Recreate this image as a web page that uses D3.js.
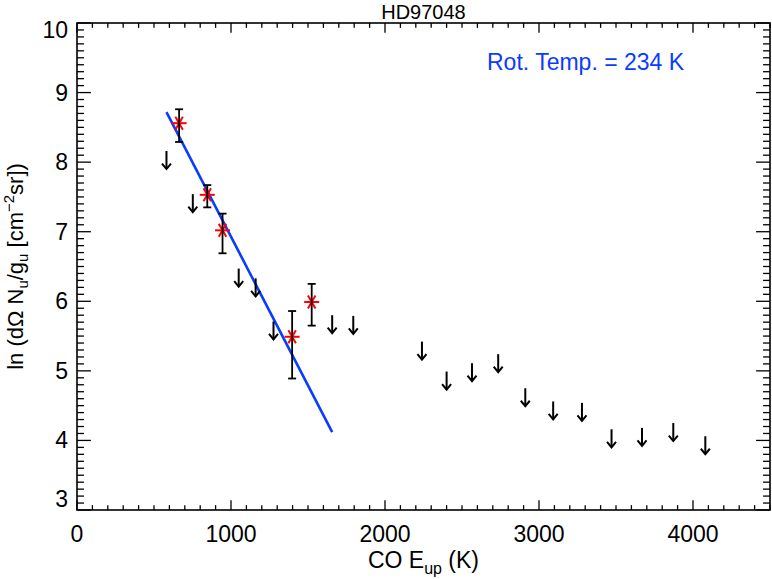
<!DOCTYPE html>
<html><head><meta charset="utf-8">
<script src="https://cdn.jsdelivr.net/npm/d3@7"></script>
<style>body{margin:0;background:#fff}svg{display:block}text{font-family:"Liberation Sans",Arial,Helvetica,sans-serif}</style>
</head><body><div id="chart"></div>
<script>
// ---- data ----
const title = "HD97048";
const xTicks = [0, 1000, 2000, 3000, 4000];
const yTicks = [3, 4, 5, 6, 7, 8, 9, 10];
// detections (CO J=15,17,18,22,23)
const detE  = [663, 846, 945, 1397, 1524];
const detLn = [8.56, 7.53, 7.02, 5.49, 5.99];
const detHi = [8.76, 7.67, 7.26, 5.86, 6.25];
const detLo = [8.29, 7.35, 6.69, 4.89, 5.65];
// upper limits
const limE  = [581, 752, 1050, 1160, 1276, 1657, 1794, 2240, 2400, 2565, 2735, 2911, 3092, 3279, 3471, 3669, 3872, 4080];
const limLn = [8.16, 7.54, 6.47, 6.33, 5.71, 5.80, 5.79, 5.42, 4.99, 5.11, 5.24, 4.75, 4.56, 4.54, 4.16, 4.18, 4.25, 4.06];
// rotational fit line
const fitE  = [581, 1657];
const fitLn = [8.72, 4.12];
const fitLabel = "Rot. Temp. = 234 K";

// ---- layout ----
const W = 772, H = 579;
const L = 77, R = 770, T = 23, B = 510;
const svg = d3.select("#chart").append("svg").attr("width", W).attr("height", H);
const x = d3.scaleLinear().domain([0, 4500]).range([L, R]);
const y = d3.scaleLinear().domain([3, 10]).range([B, T]);
const blue = "#0a3cff";

// ticks
const xMinor = d3.range(0, 4501, 100);
const yMinor = d3.range(30, 101, 1).map(v => v / 10);
const xMaj = 9.7, yMaj = 13.9;
const g = svg.append("g").attr("stroke", "#000").attr("stroke-width", 1.3);
xMinor.forEach(v => {
  const len = v % 1000 === 0 ? xMaj : xMaj / 2;
  g.append("line").attr("x1", x(v)).attr("x2", x(v)).attr("y1", B).attr("y2", B - len);
  g.append("line").attr("x1", x(v)).attr("x2", x(v)).attr("y1", T).attr("y2", T + len);
});
yMinor.forEach(v => {
  const len = Math.abs(v - Math.round(v)) < 1e-6 ? yMaj : yMaj / 2;
  g.append("line").attr("y1", y(v)).attr("y2", y(v)).attr("x1", L).attr("x2", L + len);
  g.append("line").attr("y1", y(v)).attr("y2", y(v)).attr("x1", R).attr("x2", R - len);
});
svg.append("rect").attr("x", L).attr("y", T).attr("width", R - L).attr("height", B - T)
  .attr("fill", "none").attr("stroke", "#000").attr("stroke-width", 1.6);

// tick labels
svg.selectAll(".xl").data(xTicks).enter().append("text")
  .attr("x", d => x(d)).attr("y", 542).attr("text-anchor", "middle")
  .attr("font-size", 23).text(d => d);
svg.selectAll(".yl").data(yTicks).enter().append("text")
  .attr("x", 68).attr("text-anchor", "end").attr("font-size", 23)
  .attr("y", d => y(d) + 8 + (d === 10 ? 7 : 0) - (d === 3 ? 11 : 0)).text(d => d);

// title
svg.append("text").attr("x", (L + R) / 2).attr("y", 18.5).attr("text-anchor", "middle")
  .attr("font-size", 20).text(title);

// x axis title
const xt = svg.append("text").attr("x", (L + R) / 2).attr("y", 568).attr("text-anchor", "middle").attr("font-size", 23);
xt.append("tspan").text("CO E");
xt.append("tspan").attr("font-size", 16).attr("dy", 6).text("up");
xt.append("tspan").attr("dy", -6).text(" (K)");

// y axis title
const yt = svg.append("text").attr("transform", `translate(23,${(T + B) / 2}) rotate(-90)`)
  .attr("text-anchor", "middle").attr("font-size", 22);
yt.append("tspan").text("ln (dΩ N");
yt.append("tspan").attr("font-size", 15).attr("dy", 5).text("u");
yt.append("tspan").attr("dy", -5).text("/g");
yt.append("tspan").attr("font-size", 15).attr("dy", 5).text("u");
yt.append("tspan").attr("dy", -5).text(" [cm");
yt.append("tspan").attr("font-size", 15).attr("dy", -9).text("−2");
yt.append("tspan").attr("dy", 9).text("sr])");

// fit line
svg.append("line").attr("x1", x(fitE[0])).attr("y1", y(fitLn[0]))
  .attr("x2", x(fitE[1])).attr("y2", y(fitLn[1]))
  .attr("stroke", blue).attr("stroke-width", 2.6);

// upper limit arrows
const ag = svg.append("g").attr("stroke", "#000").attr("stroke-width", 2).attr("fill", "none");
limE.forEach((e, i) => {
  const cx = x(e), cy = y(limLn[i]);
  ag.append("line").attr("x1", cx).attr("x2", cx).attr("y1", cy).attr("y2", cy + 18);
  ag.append("path").attr("d", `M${cx - 4.5},${cy + 12.5}L${cx},${cy + 18}L${cx + 4.5},${cy + 12.5}`);
});

// detections: asterisks + error bars
const sg = svg.append("g");
detE.forEach((e, i) => {
  const cx = x(e), cy = y(detLn[i]), r = 7.5;
  [0, 60, 120].forEach(a => {
    const rad = a * Math.PI / 180;
    sg.append("line").attr("x1", cx - r * Math.cos(rad)).attr("y1", cy - r * Math.sin(rad))
      .attr("x2", cx + r * Math.cos(rad)).attr("y2", cy + r * Math.sin(rad))
      .attr("stroke", "#ff0000").attr("stroke-width", 2);
  });
  const eg = sg.append("g").attr("stroke", "#000").attr("stroke-width", 1.8);
  eg.append("line").attr("x1", cx).attr("x2", cx).attr("y1", y(detHi[i])).attr("y2", y(detLo[i]));
  eg.append("line").attr("x1", cx - 4).attr("x2", cx + 4).attr("y1", y(detHi[i])).attr("y2", y(detHi[i]));
  eg.append("line").attr("x1", cx - 4).attr("x2", cx + 4).attr("y1", y(detLo[i])).attr("y2", y(detLo[i]));
});

// legend text
svg.append("text").attr("x", 487).attr("y", 70).attr("font-size", 23).attr("fill", blue).text(fitLabel);
</script></body></html>
